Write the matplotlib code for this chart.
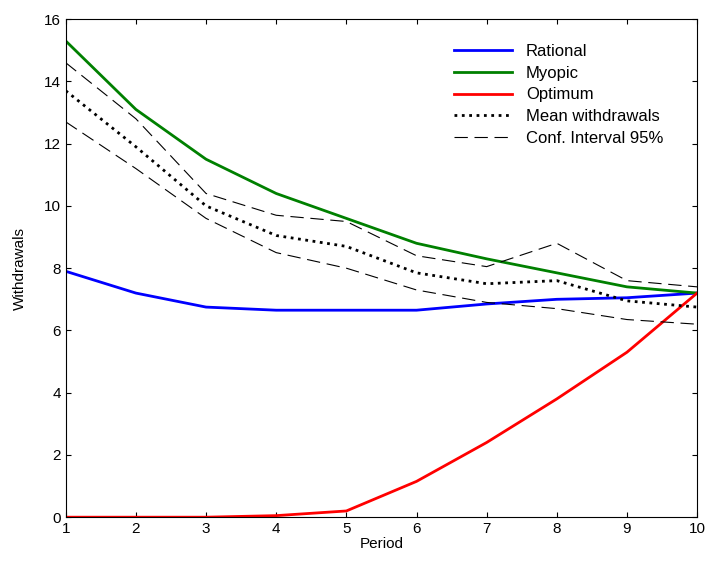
import numpy as np
import matplotlib.pyplot as plt

plt.rcParams['font.family'] = ['Liberation Sans', 'DejaVu Sans']

period = np.arange(1, 11)
rational = [7.9, 7.2, 6.75, 6.65, 6.65, 6.65, 6.85, 7.0, 7.05, 7.2]
myopic = [15.3, 13.1, 11.5, 10.4, 9.6, 8.8, 8.3, 7.85, 7.4, 7.2]
optimum = [0, 0, 0, 0.05, 0.2, 1.15, 2.4, 3.8, 5.3, 7.2]
mean_w = [13.7, 11.9, 10.0, 9.05, 8.7, 7.85, 7.5, 7.6, 6.95, 6.75]
ci_upper = [14.6, 12.8, 10.4, 9.7, 9.5, 8.4, 8.05, 8.8, 7.6, 7.4]
ci_lower = [12.7, 11.2, 9.6, 8.5, 8.0, 7.3, 6.9, 6.7, 6.35, 6.2]

fig = plt.figure(figsize=(7.07, 5.64), dpi=100)
ax = fig.add_axes([0.093, 0.083, 0.893, 0.883])
ax.plot(period, rational, color='#0000ff', lw=2, label='Rational')
ax.plot(period, myopic, color='#008000', lw=2, label='Myopic')
ax.plot(period, optimum, color='#ff0000', lw=2, label='Optimum')
ax.plot(period, mean_w, color='black', lw=2, ls=':', label='Mean withdrawals')
ax.plot(period, ci_upper, color='black', lw=0.8, ls=(0, (12, 6)), label='Conf. Interval 95%')
ax.plot(period, ci_lower, color='black', lw=0.8, ls=(0, (12, 6)))

ax.set_xlim(1, 10)
ax.set_ylim(0, 16)
ax.set_xticks(period)
ax.set_yticks(range(0, 17, 2))
ax.tick_params(direction='in', top=True, right=True, labelsize=11)
ax.set_xlabel('Period', fontsize=11, labelpad=1)
ax.set_ylabel('Withdrawals', fontsize=11, labelpad=12)
ax.legend(loc='upper right', frameon=False, fontsize=12, handlelength=3.5,
          labelspacing=0.4, bbox_to_anchor=(0.97, 0.98))
fig.savefig('out.png')
